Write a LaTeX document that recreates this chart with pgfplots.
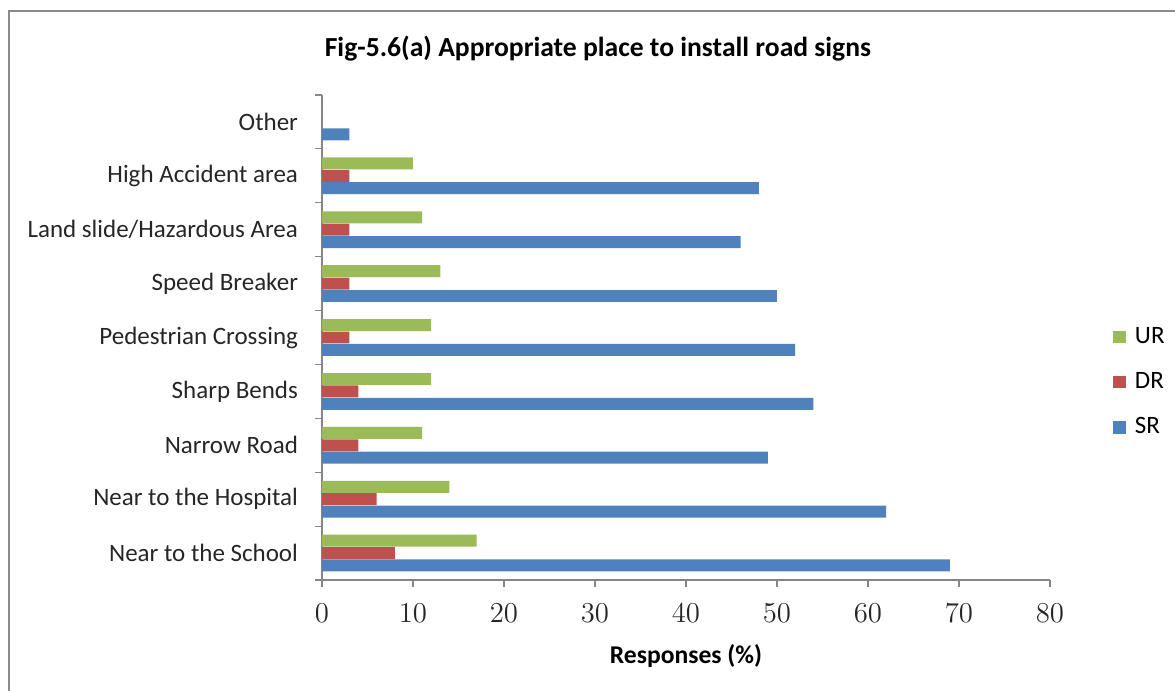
\documentclass[border=0pt]{standalone}
\usepackage{pgfplots}
\pgfplotsset{compat=1.18}
\usepackage{fontspec}
\setmainfont{Carlito}

\definecolor{srblue}{HTML}{4F81BD}
\definecolor{drred}{HTML}{C0504D}
\definecolor{urgreen}{HTML}{9BBB59}
\definecolor{axisgray}{HTML}{868686}
\definecolor{framegray}{HTML}{8A8A8A}

% y = category index (0 = bottom), x = responses in percent
\pgfplotstableread{
y  SR  DR  UR
0  69  8   17
1  62  6   14
2  49  4   11
3  54  4   12
4  52  3   12
5  50  3   13
6  46  3   11
7  48  3   10
8  3   0   0
}\roadsigns

\begin{document}
\begin{tikzpicture}
\useasboundingbox (0,0) rectangle (587.5pt,345.5pt);
% chart frame (open to the right and bottom)
\draw[framegray, line width=1.4pt] (590pt,340pt) -- (4.5pt,340pt) -- (4.5pt,-3pt);

\begin{axis}[
  at={(161pt,55.5pt)}, anchor=south west,
  scale only axis,
  width=364pt, height=242.5pt,
  xmin=0, xmax=80,
  ymin=-0.5, ymax=8.5,
  xtick={0,10,...,80},
  ytick={0,...,8},
  yticklabels={Near to the School,Near to the Hospital,Narrow Road,Sharp Bends,Pedestrian Crossing,Speed Breaker,Land slide/Hazardous Area,High Accident area,Other},
  minor ytick={-0.5,0.5,...,8.5},
  major tick length=3.5pt,
  minor tick length=3.5pt,
  major y tick style={draw=none},
  tick align=outside,
  axis x line*=bottom,
  axis y line*=left,
  axis line style={axisgray, line width=0.6pt, -},
  every tick/.style={axisgray, line width=0.6pt},
  tick label style={font=\fontsize{12.5}{15}\selectfont, text=black!85},
  xticklabel style={font=\fontsize{14}{16}\selectfont, yshift=-5pt},
  yticklabel style={xshift=-5pt},
  xlabel={\textbf{Responses (\%)}},
  xlabel style={font=\fontsize{12.8}{15}\selectfont, yshift=-4pt},
  title={Fig-5.6(a) Appropriate place to install road signs},
  title style={font=\bfseries\fontsize{13.8}{16}\selectfont, at={(axis description cs:0.379,1.07)}, anchor=center},
  xbar,
  bar width=0.222,
  legend style={draw=none, fill=none, at={(axis description cs:1.078,0.408)}, anchor=west,
    font=\fontsize{12.5}{15}\selectfont, row sep=9pt},
  legend cell align=left,
  reverse legend,
  legend image code/.code={\fill[#1] (0pt,-3.2pt) rectangle (6.4pt,3.2pt);},
]
\addplot[fill=srblue, draw=none, bar shift=-0.23] table[x=SR, y=y] {\roadsigns};
\addplot[fill=drred, draw=none, bar shift=0] table[x=DR, y=y] {\roadsigns};
\addplot[fill=urgreen, draw=none, bar shift=0.23] table[x=UR, y=y] {\roadsigns};
\legend{\hspace{2.5pt}SR,\hspace{2.5pt}DR,\hspace{2.5pt}UR}
\end{axis}
\end{tikzpicture}
\end{document}
